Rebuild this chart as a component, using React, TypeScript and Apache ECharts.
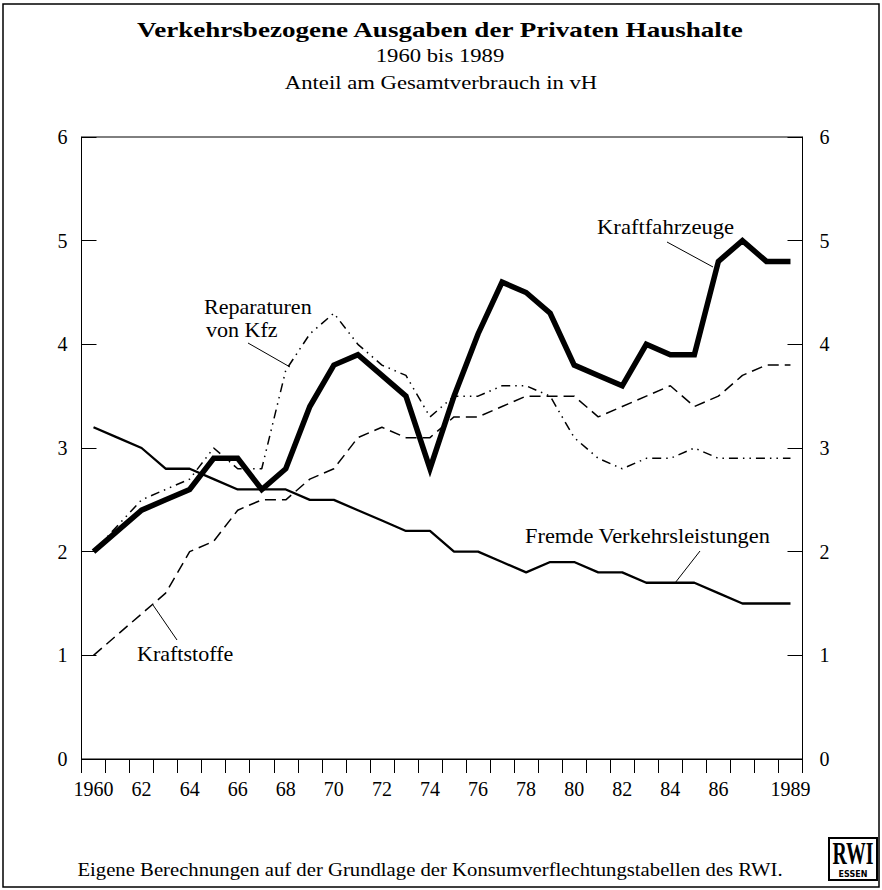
import { useEffect, useRef } from "react";
import * as echarts from "echarts";

const years = [
  "1960", "1961", "1962", "1963", "1964", "1965", "1966", "1967", "1968", "1969",
  "1970", "1971", "1972", "1973", "1974", "1975", "1976", "1977", "1978", "1979",
  "1980", "1981", "1982", "1983", "1984", "1985", "1986", "1987", "1988", "1989",
];

const kraftfahrzeuge = [2.0, 2.2, 2.4, 2.5, 2.6, 2.9, 2.9, 2.6, 2.8, 3.4, 3.8, 3.9, 3.7, 3.5, 2.8, 3.5, 4.1, 4.6, 4.5, 4.3, 3.8, 3.7, 3.6, 4.0, 3.9, 3.9, 4.8, 5.0, 4.8, 4.8];
const fremdeVerkehrsleistungen = [3.2, 3.1, 3.0, 2.8, 2.8, 2.7, 2.6, 2.6, 2.6, 2.5, 2.5, 2.4, 2.3, 2.2, 2.2, 2.0, 2.0, 1.9, 1.8, 1.9, 1.9, 1.8, 1.8, 1.7, 1.7, 1.7, 1.6, 1.5, 1.5, 1.5];
const kraftstoffe = [1.0, 1.2, 1.4, 1.6, 2.0, 2.1, 2.4, 2.5, 2.5, 2.7, 2.8, 3.1, 3.2, 3.1, 3.1, 3.3, 3.3, 3.4, 3.5, 3.5, 3.5, 3.3, 3.4, 3.5, 3.6, 3.4, 3.5, 3.7, 3.8, 3.8];
const reparaturen = [2.0, 2.25, 2.5, 2.6, 2.7, 3.0, 2.8, 2.8, 3.75, 4.1, 4.3, 4.0, 3.8, 3.7, 3.3, 3.5, 3.5, 3.6, 3.6, 3.5, 3.1, 2.9, 2.8, 2.9, 2.9, 3.0, 2.9, 2.9, 2.9, 2.9];

const title = "Verkehrsbezogene Ausgaben der Privaten Haushalte";
const subtitle1 = "1960 bis 1989";
const subtitle2 = "Anteil am Gesamtverbrauch in vH";
const footer = "Eigene Berechnungen auf der Grundlage der Konsumverflechtungstabellen des RWI.";

const SERIF = '"Liberation Serif", "Times New Roman", serif';

function txt(x: number, y: number, text: string, font: string, align = "left", extra: any = {}) {
  return {
    type: "text",
    x,
    y,
    ...extra,
    style: {
      text,
      font,
      fill: "#000",
      textAlign: align,
      align,
      textVerticalAlign: "middle",
      verticalAlign: "middle",
    },
  };
}

function ln(x1: number, y1: number, x2: number, y2: number, w = 1) {
  return {
    type: "line",
    shape: { x1, y1, x2, y2 },
    style: { stroke: "#000", lineWidth: w },
  };
}

export default function App() {
  const ref = useRef<HTMLDivElement>(null);
  useEffect(() => {
    const chart = echarts.init(ref.current!, null, { renderer: "svg" });
    const yAxisBase = {
      type: "value",
      min: 0,
      max: 6,
      interval: 1,
      splitLine: { show: false },
      axisLine: { show: true, lineStyle: { color: "#000", width: 1 } },
      axisTick: { show: true, inside: true, length: 15, lineStyle: { color: "#000", width: 1 } },
    };
    chart.setOption({
      animation: false,
      backgroundColor: "#fff",
      grid: {
        left: 81.5,
        right: 79.5,
        top: 137,
        bottom: 131,
        show: true,
        borderColor: "#000",
        borderWidth: 1,
        backgroundColor: "transparent",
      },
      xAxis: {
        type: "category",
        data: years,
        boundaryGap: true,
        axisLine: { show: true, lineStyle: { color: "#000", width: 1 } },
        axisTick: { show: true, interval: 0, inside: false, length: 14, lineStyle: { color: "#000", width: 1 } },
        axisLabel: {
          interval: (i: number) => (i % 2 === 0 && i <= 26) || i === 29,
          formatter: (v: string) => (v === "1960" || v === "1989" ? v : v.slice(2)),
          color: "#000",
          fontSize: 20,
          fontFamily: SERIF,
          margin: 20,
        },
        splitLine: { show: false },
      },
      yAxis: [
        {
          ...yAxisBase,
          position: "left",
          axisLabel: { color: "#000", fontSize: 20, fontFamily: SERIF, margin: 14 },
        },
        {
          ...yAxisBase,
          position: "right",
          axisLabel: { color: "#000", fontSize: 20, fontFamily: SERIF, margin: 17 },
        },
      ],
      series: [
        {
          name: "Kraftstoffe",
          type: "line",
          data: kraftstoffe,
          symbol: "none",
          lineStyle: { color: "#000", width: 1.5, type: [11, 6] },
          z: 2,
        },
        {
          name: "Reparaturen von Kfz",
          type: "line",
          data: reparaturen,
          symbol: "none",
          lineStyle: { color: "#000", width: 1.5, type: [9, 5, 1.5, 5, 1.5, 5] },
          z: 3,
        },
        {
          name: "Fremde Verkehrsleistungen",
          type: "line",
          data: fremdeVerkehrsleistungen,
          symbol: "none",
          lineStyle: { color: "#000", width: 2.3 },
          z: 4,
        },
        {
          name: "Kraftfahrzeuge",
          type: "line",
          data: kraftfahrzeuge,
          symbol: "none",
          lineStyle: { color: "#000", width: 5.5, join: "miter" },
          z: 5,
        },
      ],
      graphic: [
        {
          type: "rect",
          shape: { x: 3, y: 4, width: 876, height: 883 },
          style: { fill: "none", stroke: "#000", lineWidth: 1.5 },
          silent: true,
        },
        txt(440, 29, title, `bold 22px ${SERIF}`, "center", { scaleX: 1.23 }),
        txt(440, 56, subtitle1, `18px ${SERIF}`, "center", { scaleX: 1.26 }),
        txt(441, 83, subtitle2, `18px ${SERIF}`, "center", { scaleX: 1.26 }),
        txt(430, 869, footer, `19px ${SERIF}`, "center", { scaleX: 1.09 }),
        // annotations
        txt(597, 227, "Kraftfahrzeuge", `21px ${SERIF}`, "left", { scaleX: 1.08 }),
        ln(667, 242, 713, 267),
        txt(204, 307, "Reparaturen", `21px ${SERIF}`, "left", { scaleX: 1.05 }),
        txt(206, 330, "von Kfz", `21px ${SERIF}`, "left", { scaleX: 1.05 }),
        ln(248, 343, 290, 367),
        txt(137, 654, "Kraftstoffe", `21px ${SERIF}`, "left", { scaleX: 1.05 }),
        ln(153, 605, 177, 640),
        txt(525, 536, "Fremde Verkehrsleistungen", `21px ${SERIF}`, "left", { scaleX: 1.065 }),
        ln(700, 551, 675, 583),
        // RWI logo
        {
          type: "rect",
          shape: { x: 829, y: 838, width: 48, height: 42 },
          style: { fill: "#fff", stroke: "#000", lineWidth: 2 },
        },
        txt(853, 853, "RWI", `bold 32px ${SERIF}`, "center", { scaleX: 0.62 }),
        txt(853, 874, "ESSEN", `bold 8px "DejaVu Sans", sans-serif`, "center"),
      ],
    });
    return () => chart.dispose();
  }, []);
  return <div ref={ref} style={{ position: "absolute", left: 0, top: 0, width: 882, height: 890 }} />;
}
